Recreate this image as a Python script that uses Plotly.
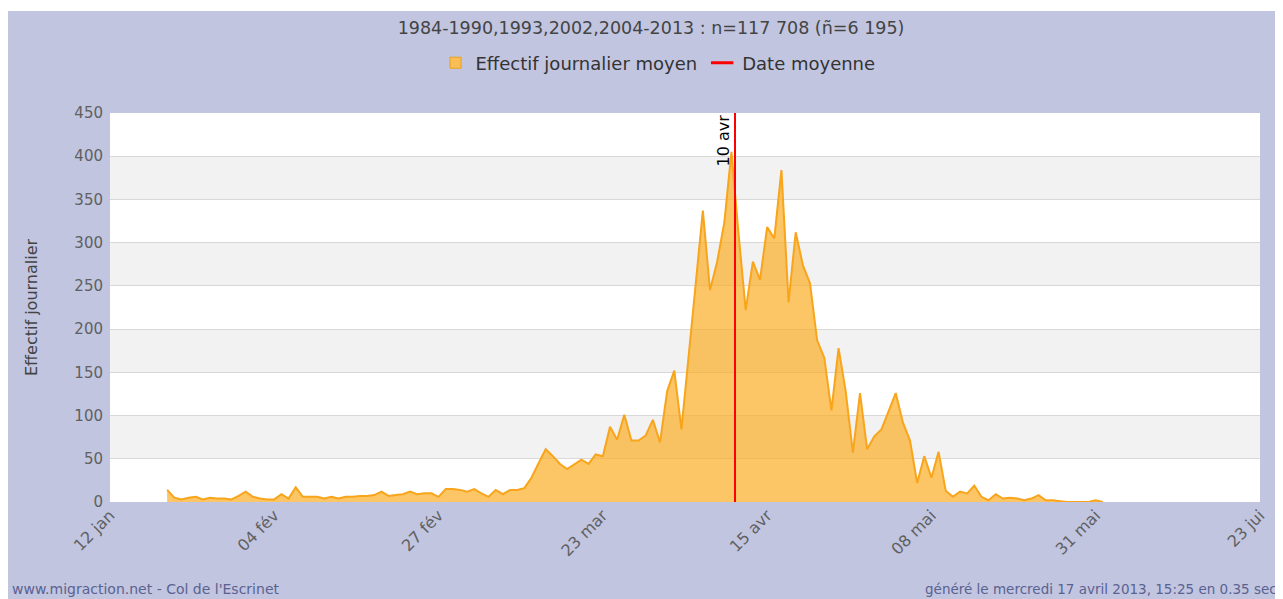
import plotly.graph_objects as go

# ---- data ----
title_text = "1984-1990,1993,2002,2004-2013 : n=117 708 (ñ=6 195)"
tick_days = [0, 23, 46, 69, 92, 115, 138, 161]
tick_labels = ["12 jan", "04 fév", "27 fév", "23 mar", "15 avr", "08 mai", "31 mai", "23 jui"]
first_day = 8
daily_mean = [
    14, 5, 3, 5, 6, 3, 5, 4, 4, 3,            # d8-d17
    7, 12, 6, 4, 3, 3, 9, 4, 17, 6,           # d18-d27
    6, 6, 4, 6, 4, 6, 6, 7, 7, 8,             # d28-d37
    12, 7, 8, 9, 12, 9, 10, 10, 6, 15,        # d38-d47
    15, 14, 12, 15, 10, 6, 14, 9, 14, 14,     # d48-d57
    16, 28, 45, 61, 53, 44, 38, 44, 49, 44,   # d58-d67
    55, 53, 87, 72, 101, 71, 71, 77, 95, 69,  # d68-d77
    128, 152, 84, 168, 251, 337, 245, 278, 323, 405,  # d78-d87
    310, 222, 278, 257, 318, 305, 384, 231, 312, 274,  # d88-d97
    253, 187, 167, 106, 178, 128, 57, 126, 61, 76,     # d98-d107
    84, 106, 126, 92, 71, 22, 53, 28, 58, 13,          # d108-d117
    6, 12, 10, 19, 6, 2, 9, 4, 5, 4,                   # d118-d127
    2, 4, 8, 2, 2, 1, 0, 0, 0, 0,                      # d128-d137
    2, 0,                                              # d138-d139
]
days = list(range(first_day, first_day + len(daily_mean)))
mean_day = 87.5
mean_label = "10 avr"

# ---- style ----
W, H = 1275, 591          # page adds an 8px body margin
ML, MR, MT, MB = 102, 23, 105, 97
BG = "#C1C5E0"
FONT = "DejaVu Sans, Liberation Sans, sans-serif"
ORANGE_LINE = "#F8A51C"
ORANGE_FILL = "rgba(250,170,30,0.68)"

ph = H - MT - MB
pw = W - ML - MR
def px_x(p):
    return (p - ML) / pw
def px_y(p):
    return (H - MB - p) / ph

fig = go.Figure()

fig.add_trace(go.Scatter(
    x=days, y=daily_mean, mode="lines", name="Effectif journalier moyen",
    line=dict(color=ORANGE_LINE, width=2), fill="tozeroy",
    fillcolor=ORANGE_FILL, showlegend=False,
))
fig.add_trace(go.Scatter(
    x=[mean_day, mean_day], y=[0, 450], mode="lines", name="Date moyenne",
    line=dict(color="#FF0000", width=2), showlegend=False,
))
# legend entries
fig.add_trace(go.Scatter(
    x=[None], y=[None], mode="markers", name="Effectif journalier moyen",
    marker=dict(symbol="square", size=11, color="#F9BE55", line=dict(color="#E8A020", width=1)),
))
fig.add_trace(go.Scatter(
    x=[None], y=[None], mode="markers", name="Date moyenne",
    marker=dict(symbol="line-ew-open", size=16, color="#FF0000", line=dict(color="#FF0000", width=3)),
))

shapes = []
for lo in range(50, 450, 100):
    shapes.append(dict(type="rect", xref="paper", yref="y", x0=0, x1=1, y0=lo, y1=lo + 50,
                       fillcolor="#F2F2F2", line=dict(width=0), layer="below"))
shapes.append(dict(type="rect", xref="paper", yref="paper", x0=px_x(0), x1=px_x(W), y0=px_y(3), y1=px_y(0),
                   fillcolor="white", line=dict(width=0), layer="below"))

annotations = [
    dict(x=mean_day, y=450, xref="x", yref="y", text=mean_label, textangle=-90, showarrow=False,
         xanchor="right", yanchor="top", xshift=-1, font=dict(family=FONT, size=16, color="#000000")),
    dict(x=px_x(2), y=px_y(581), xref="paper", yref="paper", text="www.migraction.net - Col de l'Escrinet",
         showarrow=False, xanchor="left", yanchor="middle", font=dict(family=FONT, size=14, color="#5A6290")),
    dict(x=px_x(1271), y=px_y(581), xref="paper", yref="paper",
         text="généré le mercredi 17 avril 2013, 15:25 en 0.35 sec",
         showarrow=False, xanchor="right", yanchor="middle", font=dict(family=FONT, size=13.5, color="#5A6290")),
]

fig.update_layout(
    width=W, height=H,
    margin=dict(l=ML, r=MR, t=MT, b=MB, autoexpand=False),
    paper_bgcolor=BG, plot_bgcolor="white",
    font=dict(family=FONT, size=16, color="#333333"),
    title=dict(text=title_text, x=643 / W, xanchor="center", y=1 - 20 / H, yanchor="middle",
               font=dict(family=FONT, size=17.5, color="#444444")),
    legend=dict(orientation="h", x=px_x(650), xanchor="center", y=px_y(55), yanchor="middle",
                font=dict(family=FONT, size=18, color="#333333"), bgcolor="rgba(0,0,0,0)",
                itemwidth=30),
    showlegend=True,
    shapes=shapes,
    annotations=annotations,
    xaxis=dict(range=[0, 161], tickmode="array", tickvals=tick_days, ticktext=tick_labels,
               tickangle=-45, showgrid=False, zeroline=False, showline=False,
               tickfont=dict(family=FONT, size=16, color="#606060"), fixedrange=True),
    yaxis=dict(range=[0, 450], dtick=50, showgrid=True, gridcolor="#D8D8D8", gridwidth=1,
               zeroline=False, showline=False, ticklabelstandoff=6,
               tickfont=dict(family=FONT, size=15, color="#606060"),
               title=dict(text="Effectif journalier", font=dict(family=FONT, size=16, color="#444444"),
                          standoff=32), fixedrange=True),
)

fig.write_html("out.html")
